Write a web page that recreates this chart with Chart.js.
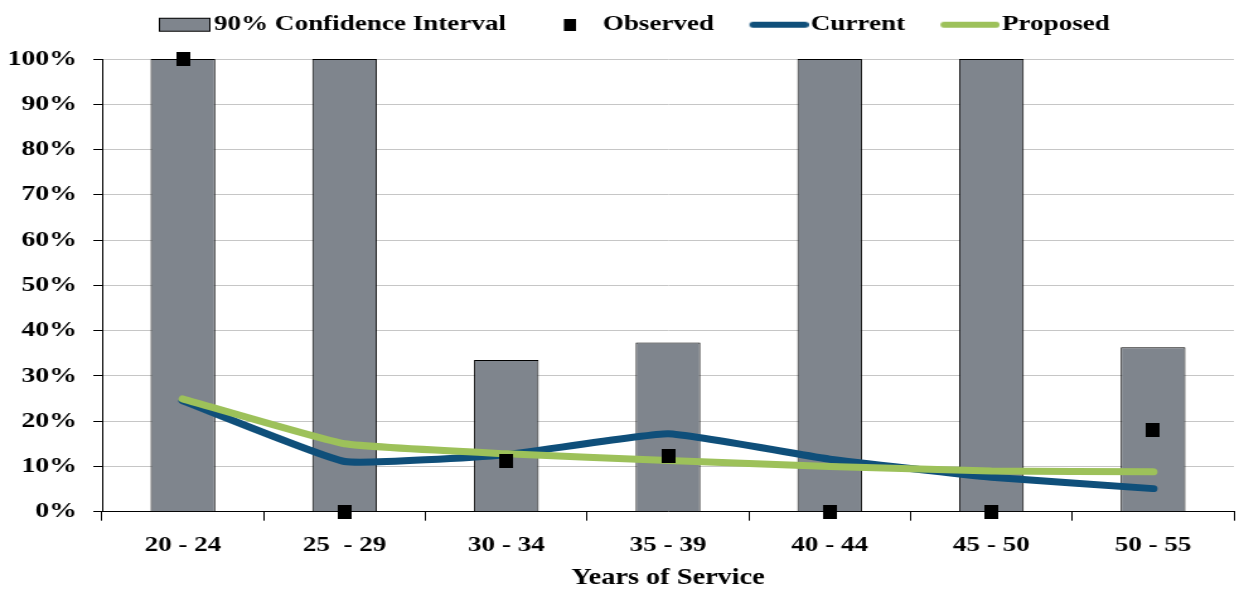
<!DOCTYPE html>
<html>
<head>
<meta charset="utf-8">
<title>Years of Service</title>
<script src="https://cdn.jsdelivr.net/npm/chart.js@4/dist/chart.umd.min.js"></script>
<style>
  html, body { margin: 0; padding: 0; background: #ffffff; overflow: hidden; }
  #wrap { width: 1244px; height: 589px; overflow: hidden; }
  #chart { display: block; transform-origin: 0 0; }
</style>
</head>
<body>
<div id="wrap"><canvas id="chart"></canvas></div>
<script>
// ---- data ----
const categories = ['20 - 24', '25  - 29', '30 - 34', '35 - 39', '40 - 44', '45 - 50', '50 - 55'];
const ciLower  = [0, 0, 0, 0, 0, 0, 0];
const ciUpper  = [100, 100, 33.5, 37.4, 100, 100, 36.3];
const observed = [100, 0, 11.1, 12.4, 0, 0, 18.1];
const current  = [24.5, 11.1, 12.6, 17.2, 11.6, 7.6, 5.1];
const proposed = [24.9, 15.0, 12.8, 11.3, 10.0, 9.0, 8.8];
const yMin = 0, yMax = 100, yStep = 10;

// ---- look ----
const GREY = '#7f858d';
const BLUE = '#0f4f7a';
const GREEN = '#9dc15a';
const FONT = 'Liberation Serif';

// The chart is laid out on a narrower canvas and widened with CSS,
// which gives the serif type its broad, stretched look.
const WIDTH = 1244, HEIGHT = 589, STRETCH = 1.26;
const CW = Math.round(WIDTH / STRETCH);
const canvas = document.getElementById('chart');
canvas.width = CW;
canvas.height = HEIGHT;
canvas.style.width = CW + 'px';
canvas.style.height = HEIGHT + 'px';
canvas.style.transform = 'scaleX(' + (WIDTH / CW) + ')';

function symbol(w, h, paint) {
  const c = document.createElement('canvas');
  c.width = w; c.height = h;
  paint(c.getContext('2d'));
  return c;
}

// square marker for the observed rates
const marker = symbol(11, 14, ctx => { ctx.fillStyle = '#000'; ctx.fillRect(0, 0, 11, 14); });

// legend keys, drawn flush against the right side of the key area
const legendKeys = [
  symbol(74, 16, ctx => {
    ctx.fillStyle = GREY; ctx.fillRect(33.5, 1.5, 40, 13);
    ctx.strokeStyle = '#000'; ctx.lineWidth = 1; ctx.strokeRect(33.5, 1.5, 40, 13);
  }),
  symbol(38, 12, ctx => { ctx.fillStyle = '#000'; ctx.fillRect(28, 0, 10, 12); }),
  symbol(76, 8, ctx => {
    ctx.strokeStyle = BLUE; ctx.lineWidth = 6; ctx.lineCap = 'round';
    ctx.beginPath(); ctx.moveTo(32, 4); ctx.lineTo(73, 4); ctx.stroke();
  }),
  symbol(76, 8, ctx => {
    ctx.strokeStyle = GREEN; ctx.lineWidth = 6; ctx.lineCap = 'round';
    ctx.beginPath(); ctx.moveTo(32, 4); ctx.lineTo(73, 4); ctx.stroke();
  })
];

const intervals = ciLower.map((lo, i) => [lo, ciUpper[i]]);

new Chart(canvas, {
  type: 'bar',
  data: {
    labels: categories,
    datasets: [
      {
        label: '90% Confidence Interval',
        data: intervals,
        backgroundColor: GREY,
        borderColor: '#000',
        borderWidth: 1,
        borderSkipped: 'start',
        categoryPercentage: 0.4,
        barPercentage: 1,
        order: 4
      },
      {
        type: 'line',
        label: 'Observed',
        data: observed,
        showLine: false,
        pointStyle: marker,
        pointRadius: 7,
        pointHoverRadius: 7,
        backgroundColor: '#000',
        borderColor: '#000',
        clip: false,
        order: 1
      },
      {
        type: 'line',
        label: 'Current',
        data: current,
        borderColor: BLUE,
        backgroundColor: BLUE,
        borderWidth: 7,
        borderCapStyle: 'round',
        borderJoinStyle: 'round',
        tension: 0.12,
        pointRadius: 0,
        pointHoverRadius: 0,
        order: 3
      },
      {
        type: 'line',
        label: 'Proposed',
        data: proposed,
        borderColor: GREEN,
        backgroundColor: GREEN,
        borderWidth: 7,
        borderCapStyle: 'round',
        borderJoinStyle: 'round',
        tension: 0.12,
        pointRadius: 0,
        pointHoverRadius: 0,
        order: 2
      }
    ]
  },
  options: {
    responsive: false,
    maintainAspectRatio: false,
    devicePixelRatio: 1,
    animation: false,
    events: [],
    layout: { padding: { top: 6, right: 4.5, bottom: 0, left: -1 } },
    plugins: {
      tooltip: { enabled: false },
      legend: {
        position: 'top',
        labels: {
          usePointStyle: true,
          pointStyleWidth: 58,
          padding: 8,
          color: '#000',
          font: { family: FONT, size: 21.5, weight: 'bold' },
          generateLabels: chart => chart.data.datasets.map((ds, i) => ({
            text: ds.label,
            pointStyle: legendKeys[i],
            fillStyle: 'transparent',
            strokeStyle: 'transparent',
            lineWidth: 0,
            fontColor: '#000',
            hidden: !chart.isDatasetVisible(i),
            datasetIndex: i
          }))
        }
      },
      // empty block that keeps a gap between the legend and the plot
      title: { display: true, text: '', weight: 500, padding: 0, font: { size: 13.5, lineHeight: 1 } }
    },
    scales: {
      x: {
        offset: true,
        grid: {
          display: true,
          offset: true,
          drawOnChartArea: false,
          color: '#000',
          tickColor: '#000',
          tickLength: 9,
          lineWidth: 1
        },
        border: { display: true, color: '#000', width: 1 },
        ticks: {
          color: '#000',
          padding: 12,
          autoSkip: false,
          maxRotation: 0,
          font: { family: FONT, size: 21.5, weight: 'bold' }
        },
        title: {
          display: true,
          text: 'Years of Service',
          color: '#000',
          padding: { top: -4, bottom: 0 },
          font: { family: FONT, size: 22.5, weight: 'bold', lineHeight: 1 }
        }
      },
      y: {
        min: yMin,
        max: yMax,
        afterFit: scale => { scale.width = 82; },
        grid: {
          color: '#c6c6c6',
          tickColor: '#000',
          tickLength: 7,
          lineWidth: 1
        },
        border: { display: true, color: '#000', width: 1 },
        ticks: {
          stepSize: yStep,
          color: '#000',
          padding: 13,
          font: { family: FONT, size: 22, weight: 'bold' },
          callback: v => v + '%'
        }
      }
    }
  }
});
</script>
</body>
</html>
